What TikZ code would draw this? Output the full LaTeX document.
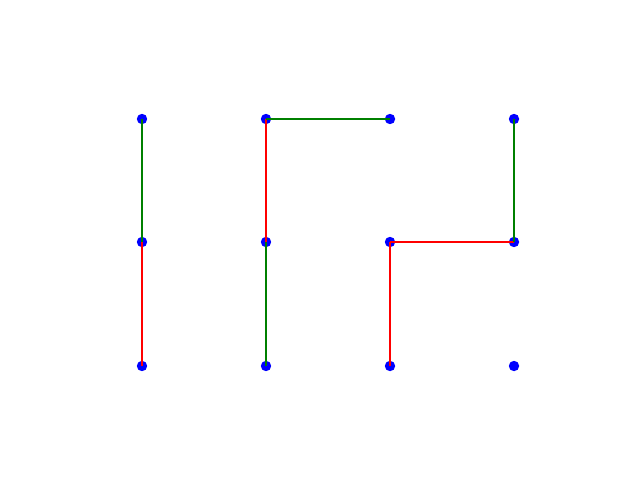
\documentclass[tikz,border=0pt]{standalone}
\begin{document}
\begin{tikzpicture}[x=1cm,y=1cm,
    dot/.style={circle,fill=blue,inner sep=0pt,minimum size=0.26cm},
    link/.style={line width=1.1pt}]
    \definecolor{mgreen}{RGB}{0,128,0}
    \useasboundingbox (0,0) rectangle (16,12);
    % grid of points
    \foreach \i/\x in {1/3.55,2/6.65,3/9.75,4/12.85}
        \foreach \j/\y in {1/9.025,2/5.95,3/2.85}
            \node[dot] (p\i\j) at (\x,\y) {};
    \draw[link,mgreen] (p11.center) -- (p12.center);
    \draw[link,red] (p12.center) -- (p13.center);
    \draw[link,red] (p21.center) -- (p22.center);
    \draw[link,mgreen] (p22.center) -- (p23.center);
    \draw[link,mgreen] (p21.center) -- (p31.center);
    \draw[link,red] (p32.center) -- (p42.center);
    \draw[link,red] (p32.center) -- (p33.center);
    \draw[link,mgreen] (p41.center) -- (p42.center);
\end{tikzpicture}
\end{document}
